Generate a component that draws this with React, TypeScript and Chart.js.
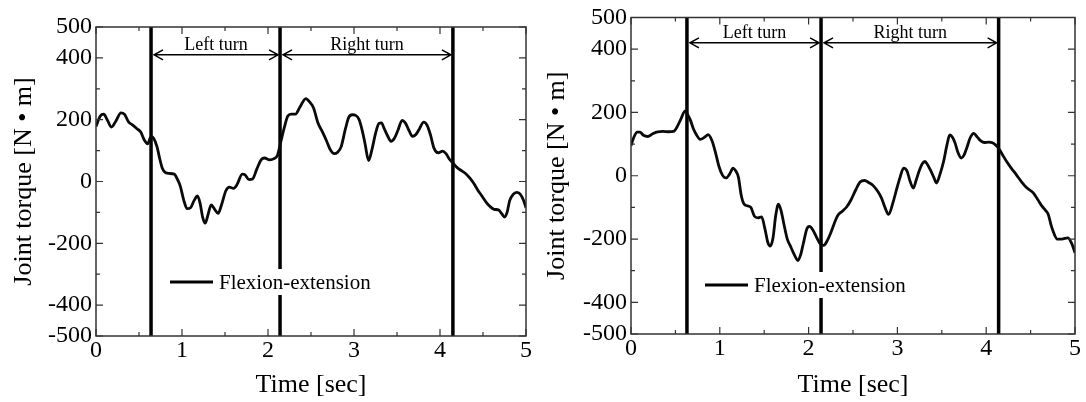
import React, { useEffect, useRef } from "react";
import { Chart, registerables } from "chart.js";

Chart.register(...registerables);

// ---------- texts ----------
const xTickLabels = ["0", "1", "2", "3", "4", "5"];
const yTickLabels = ["500", "400", "200", "0", "-200", "-400", "-500"];
const xTitle = "Time [sec]";
const yTitle = "Joint torque [N • m]";
const legendLabel = "Flexion-extension";
const phaseLabels = ["Left turn", "Right turn"];

// ---------- left panel data ----------
const leftTimes = [
  0.0, 0.05, 0.09, 0.13, 0.18, 0.23, 0.29, 0.33, 0.38, 0.42,
  0.48, 0.52, 0.56, 0.6, 0.64, 0.67, 0.71, 0.74, 0.77, 0.81,
  0.85, 0.91, 0.95, 0.98, 1.02, 1.06, 1.1, 1.14, 1.18, 1.21,
  1.24, 1.27, 1.3, 1.34, 1.38, 1.42, 1.46, 1.51, 1.55, 1.6,
  1.64, 1.7, 1.73, 1.78, 1.82, 1.87, 1.92, 1.96, 2.02, 2.07,
  2.11, 2.15, 2.19, 2.23, 2.27, 2.32, 2.37, 2.44, 2.49, 2.53,
  2.58, 2.63, 2.68, 2.72, 2.77, 2.81, 2.85, 2.9, 2.94, 2.98,
  3.02, 3.06, 3.1, 3.13, 3.17, 3.21, 3.25, 3.29, 3.32, 3.35,
  3.39, 3.43, 3.47, 3.51, 3.56, 3.6, 3.64, 3.68, 3.72, 3.76,
  3.81, 3.85, 3.89, 3.93, 3.98, 4.03, 4.07, 4.11, 4.15, 4.2,
  4.25, 4.3, 4.35, 4.39, 4.44, 4.49, 4.54, 4.59, 4.63, 4.68,
  4.72, 4.75, 4.78, 4.81, 4.85, 4.89, 4.93, 4.97, 5.0,
];
const leftTorque = [
  178, 212, 218, 200, 176, 195, 222, 218, 192, 184,
  170, 160, 135, 122, 145, 140, 112, 75, 44, 28,
  26, 24, 5, -15, -60, -88, -85, -62, -47, -70,
  -115, -135, -110, -76, -90, -103, -75, -30, -18, -22,
  -10, 24, 22, 6, 8, 40, 70, 76, 70, 74,
  85, 130, 175, 212, 218, 218, 240, 268, 255, 238,
  190, 162, 132, 105, 90, 95, 112, 170, 208, 216,
  214, 200, 160, 120, 68, 105, 155, 188, 190, 172,
  148, 130, 140, 165, 198, 188, 165, 146, 152, 170,
  192, 182, 150, 108, 93, 98, 90, 72, 60, 45,
  35, 25, 10, -5, -28, -48, -68, -83, -90, -92,
  -105, -115, -100, -62, -42, -35, -40, -60, -85,
];
const leftEvents = [0.64, 2.14, 4.15];
const leftArrowValue = 410;

// ---------- right panel data ----------
const rightTimes = [
  0.0, 0.03, 0.07, 0.1, 0.14, 0.19, 0.24, 0.3, 0.36, 0.42,
  0.48, 0.52, 0.56, 0.61, 0.64, 0.67, 0.7, 0.74, 0.78, 0.83,
  0.87, 0.91, 0.95, 0.99, 1.03, 1.07, 1.11, 1.15, 1.18, 1.21,
  1.24, 1.27, 1.31, 1.35, 1.39, 1.43, 1.47, 1.51, 1.54, 1.57,
  1.6, 1.63, 1.66, 1.69, 1.72, 1.76, 1.8, 1.84, 1.88, 1.91,
  1.94, 1.98, 2.01, 2.05, 2.09, 2.13, 2.17, 2.21, 2.25, 2.29,
  2.33, 2.38, 2.43, 2.48, 2.53, 2.58, 2.63, 2.68, 2.73, 2.78,
  2.82, 2.86, 2.9, 2.95, 2.99, 3.03, 3.07, 3.11, 3.14, 3.18,
  3.21, 3.25, 3.28, 3.31, 3.34, 3.37, 3.41, 3.44, 3.48, 3.52,
  3.56, 3.59, 3.62, 3.65, 3.68, 3.72, 3.75, 3.78, 3.82, 3.86,
  3.9, 3.94, 3.98, 4.03, 4.07, 4.11, 4.14, 4.18, 4.23, 4.28,
  4.34, 4.4, 4.46, 4.53, 4.58, 4.63, 4.67, 4.7, 4.73, 4.76,
  4.8, 4.85, 4.92, 4.96, 5.0,
];
const rightTorque = [
  95, 120, 138, 138, 128, 124, 132, 139, 140, 139,
  140, 155, 178, 205, 192, 175, 150, 128, 115, 122,
  130, 112, 75, 30, 2, -7, 5, 24, 15, -5,
  -60, -88, -95, -100, -128, -133, -130, -170, -210, -222,
  -195, -125, -90, -110, -150, -200, -225, -250, -268, -250,
  -215, -168, -160, -172, -195, -215, -220, -205, -180, -150,
  -125, -112, -98, -75, -45, -20, -15, -22, -32, -50,
  -70, -100, -122, -85, -44, -5, 24, 14, -15, -39,
  -15, 19, 38, 45, 35, 19, -5, -23, 5, 45,
  100, 129, 122, 103, 75, 56, 65, 87, 120, 134,
  122, 110, 105, 106, 104, 96, 87, 68, 45, 25,
  3, -20, -39, -54, -75, -97, -110, -123, -155, -180,
  -200, -200, -196, -212, -243,
];
const rightEvents = [0.63, 2.14, 4.14];
const rightArrowValue = 420;

// ---------- styling ----------
const FONT = '"Liberation Serif", "Times New Roman", serif';
const W = 543;
const H = 402;

type PanelCfg = {
  times: number[];
  torque: number[];
  events: number[];
  arrowValue: number;
  plotLeft: number;
  plotRight: number;
  plotTop: number;
  plotBottom: number;
  yTitlePad: number;
  legendDy: number;
};

const decorPlugin = {
  id: "decor",
  afterDatasetsDraw(chart: any, _args: any, opts: any) {
    const { ctx, chartArea: a, scales } = chart;
    const xs = scales.x;
    const ys = scales.y;
    const cfg: PanelCfg = opts.cfg;
    ctx.save();

    // legend box (white background, line sample, label)
    const lx1 = a.left + 74;
    const lx2 = a.left + 117;
    const tx = a.left + 123;
    const ly = a.top + cfg.legendDy;
    ctx.font = `21px ${FONT}`;
    const tw = ctx.measureText(legendLabel).width;
    ctx.fillStyle = "#fff";
    ctx.fillRect(lx1 - 6, ly - 13, tx + tw + 8 - (lx1 - 6), 26);
    ctx.strokeStyle = "#000";
    ctx.lineWidth = 3;
    ctx.beginPath();
    ctx.moveTo(lx1, ly);
    ctx.lineTo(lx2, ly);
    ctx.stroke();
    ctx.fillStyle = "#000";
    ctx.textAlign = "left";
    ctx.textBaseline = "middle";
    ctx.fillText(legendLabel, tx, ly + 1);

    // phase arrows
    const ay = ys.getPixelForValue(cfg.arrowValue);
    const ex = cfg.events.map((e) => xs.getPixelForValue(e));
    const drawArrow = (x1: number, x2: number) => {
      ctx.lineWidth = 1.5;
      ctx.strokeStyle = "#000";
      ctx.beginPath();
      ctx.moveTo(x1, ay);
      ctx.lineTo(x2, ay);
      ctx.moveTo(x1 + 9, ay - 5);
      ctx.lineTo(x1, ay);
      ctx.lineTo(x1 + 9, ay + 5);
      ctx.moveTo(x2 - 9, ay - 5);
      ctx.lineTo(x2, ay);
      ctx.lineTo(x2 - 9, ay + 5);
      ctx.stroke();
    };
    ctx.font = `18px ${FONT}`;
    ctx.textAlign = "center";
    ctx.textBaseline = "alphabetic";
    for (let i = 0; i < 2; i++) {
      const x1 = ex[i] + 3;
      const x2 = ex[i + 1] - 2;
      drawArrow(x1, x2);
      ctx.fillText(phaseLabels[i], (x1 + x2) / 2, ay - 5);
    }

    // frame
    ctx.strokeStyle = "#333";
    ctx.lineWidth = 1.5;
    ctx.strokeRect(a.left, a.top, a.right - a.left, a.bottom - a.top);

    // inward ticks
    ctx.lineWidth = 1.2;
    ctx.beginPath();
    xs.ticks.forEach((t: any) => {
      const px = xs.getPixelForValue(t.value);
      const len = xTickLabels.includes(String(t.value)) ? 7 : 4;
      ctx.moveTo(px, a.bottom);
      ctx.lineTo(px, a.bottom - len);
      ctx.moveTo(px, a.top);
      ctx.lineTo(px, a.top + len);
    });
    ys.ticks.forEach((t: any) => {
      const py = ys.getPixelForValue(t.value);
      const len = yTickLabels.includes(String(t.value)) ? 7 : 4;
      ctx.moveTo(a.left, py);
      ctx.lineTo(a.left + len, py);
      ctx.moveTo(a.right, py);
      ctx.lineTo(a.right - len, py);
    });
    ctx.stroke();
    ctx.restore();
  },
};

function Panel({ cfg, left }: { cfg: PanelCfg; left: number }) {
  const ref = useRef<HTMLCanvasElement>(null);
  useEffect(() => {
    const curve = cfg.times.map((t, i) => ({ x: t, y: cfg.torque[i] }));
    const eventSets = cfg.events.map((e) => ({
      data: [
        { x: e, y: -500 },
        { x: e, y: 500 },
      ],
      borderColor: "#000",
      borderWidth: 3.5,
      pointRadius: 0,
      fill: false,
    }));
    const chart = new Chart(ref.current as HTMLCanvasElement, {
      type: "line",
      data: {
        datasets: [
          {
            data: curve,
            borderColor: "#0a0a0a",
            borderWidth: 2.8,
            pointRadius: 0,
            fill: false,
            cubicInterpolationMode: "monotone",
          } as any,
          ...eventSets,
        ],
      },
      options: {
        responsive: false,
        maintainAspectRatio: false,
        animation: false,
        layout: {
          padding: {
            left: 0,
            top: cfg.plotTop,
            right: W - cfg.plotRight,
            bottom: 0,
          },
        },
        plugins: {
          legend: { display: false },
          tooltip: { enabled: false },
          decor: { cfg },
        } as any,
        scales: {
          x: {
            type: "linear",
            min: 0,
            max: 5,
            grid: { display: false, drawTicks: false },
            border: { display: false },
            ticks: {
              stepSize: 0.5,
              autoSkip: false,
              maxRotation: 0,
              minRotation: 0,
              padding: 3,
              color: "#000",
              font: { family: FONT, size: 24, lineHeight: 1 },
              callback: (v: any) => {
                const s = String(v);
                return xTickLabels.includes(s) ? s : "";
              },
            },
            title: {
              display: true,
              text: xTitle,
              color: "#000",
              font: { family: FONT, size: 26, lineHeight: 1 },
              padding: { top: 0, bottom: 4 },
            },
            afterFit: (s: any) => {
              s.height = H - cfg.plotBottom;
            },
          },
          y: {
            type: "linear",
            min: -500,
            max: 500,
            grid: { display: false, drawTicks: false },
            border: { display: false },
            ticks: {
              stepSize: 100,
              autoSkip: false,
              padding: 4,
              color: "#000",
              font: { family: FONT, size: 24, lineHeight: 1 },
              callback: (v: any) => {
                const s = String(v);
                return yTickLabels.includes(s) ? s : "";
              },
            },
            title: {
              display: true,
              text: yTitle,
              color: "#000",
              font: { family: FONT, size: 26, lineHeight: 1 },
              padding: { top: cfg.yTitlePad, bottom: 0 },
            },
            afterFit: (s: any) => {
              s.width = cfg.plotLeft;
            },
          },
        },
      } as any,
      plugins: [decorPlugin as any],
    });
    return () => chart.destroy();
  }, []);
  return (
    <canvas
      ref={ref}
      width={W}
      height={H}
      style={{ position: "absolute", left, top: 0, width: W, height: H, display: "block" }}
    />
  );
}

const leftCfg: PanelCfg = {
  times: leftTimes,
  torque: leftTorque,
  events: leftEvents,
  arrowValue: leftArrowValue,
  plotLeft: 96,
  plotRight: 526,
  plotTop: 27,
  plotBottom: 336,
  yTitlePad: 11,
  legendDy: 255,
};

const rightCfg: PanelCfg = {
  times: rightTimes,
  torque: rightTorque,
  events: rightEvents,
  arrowValue: rightArrowValue,
  plotLeft: 88,
  plotRight: 532,
  plotTop: 17.5,
  plotBottom: 334,
  yTitlePad: 0.7,
  legendDy: 267.5,
};

export default function App() {
  return (
    <div
      style={{
        position: "absolute",
        left: 0,
        top: 0,
        width: 1086,
        height: 402,
        background: "#fff",
        overflow: "hidden",
      }}
    >
      <Panel cfg={leftCfg} left={0} />
      <Panel cfg={rightCfg} left={543} />
    </div>
  );
}
